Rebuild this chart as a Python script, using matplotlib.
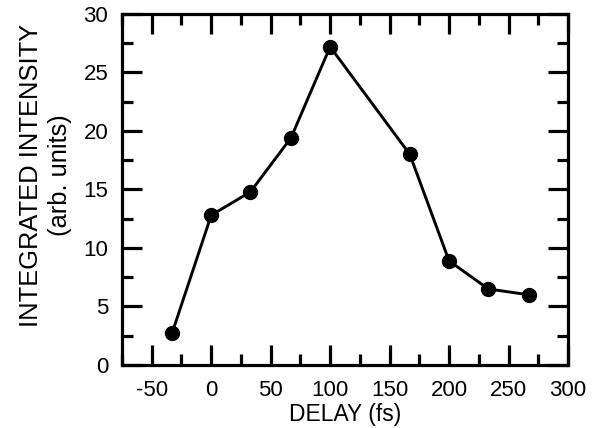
import matplotlib
matplotlib.use("Agg")
import matplotlib.pyplot as plt
from matplotlib.ticker import MultipleLocator

# data
delay = [-33, 0, 33, 67, 100, 167, 200, 233, 267]
intensity = [2.7, 12.8, 14.8, 19.4, 27.2, 18.0, 8.9, 6.5, 6.0]

plt.rcParams['font.family'] = ['Liberation Sans', 'DejaVu Sans']
plt.rcParams['axes.unicode_minus'] = False

fig = plt.figure(figsize=(5.97, 4.28), dpi=100)
ax = fig.add_axes([0.2044, 0.1472, 0.7470, 0.8201])

ax.plot(delay, intensity, color='black', lw=2.1, marker='o', ms=10)

ax.set_xlim(-75, 300)
ax.set_ylim(0, 30)
ax.xaxis.set_major_locator(MultipleLocator(50))
ax.xaxis.set_minor_locator(MultipleLocator(25))
ax.yaxis.set_major_locator(MultipleLocator(5))
ax.yaxis.set_minor_locator(MultipleLocator(2.5))

for s in ax.spines.values():
    s.set_linewidth(2.3)
ax.tick_params(which='both', direction='in', top=True, right=True, width=2.3, labelsize=16)
ax.tick_params(which='major', length=14.4)
ax.tick_params(which='minor', length=8)
ax.tick_params(axis='x', pad=11)
ax.tick_params(axis='y', pad=10)

ax.set_xlabel('DELAY (fs)', fontsize=16.5, labelpad=1)
ax.set_ylabel('INTEGRATED INTENSITY\n(arb. units)', fontsize=18.4, linespacing=1.25)
ax.yaxis.set_label_coords(-0.112, 0.541)

fig.savefig('out.png', dpi=100)
